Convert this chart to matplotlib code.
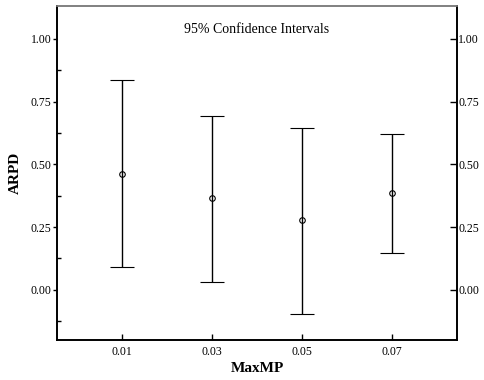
import matplotlib.pyplot as plt
import numpy as np

# values
groups = ['0.01', '0.03', '0.05', '0.07']
means = [0.463, 0.364, 0.279, 0.386]
upper = [0.835, 0.693, 0.645, 0.622]
lower = [0.092, 0.032, -0.096, 0.147]
yticks = [0.00, 0.25, 0.50, 0.75, 1.00]

plt.rcParams['font.family'] = ['Liberation Serif', 'DejaVu Serif']

fig = plt.figure(figsize=(4.85, 3.8), dpi=100)
ax = fig.add_axes([0.1175, 0.105, 0.8245, 0.879])

x = np.arange(len(groups))
means = np.array(means)
err = [means - np.array(lower), np.array(upper) - means]
ax.errorbar(x, means, yerr=err, fmt='o', color='black', mfc='none',
            ms=4, mew=0.8, elinewidth=1, capsize=8.5, capthick=1)

ax.set_xlim(-0.72, len(groups) - 1 + 0.72)
ax.set_ylim(-0.2, 1.13)
ax.set_xticks(x)
ax.set_xticklabels(groups)
ax.set_yticks(yticks)
ax.set_yticklabels([f'{v:.2f}' for v in yticks])
ax.set_yticks(np.arange(-0.125, 1.0, 0.25), minor=True)

ax.tick_params(axis='both', labelsize=8.5, width=1)
ax.tick_params(axis='y', which='major', direction='out', length=3, pad=1)
ax.tick_params(axis='y', which='minor', direction='in', length=3, width=1)
ax.tick_params(axis='x', direction='in', length=4, pad=4)

# mirrored y axis on the right
ax2 = ax.twinx()
ax2.set_ylim(ax.get_ylim())
ax2.set_yticks(yticks)
ax2.set_yticklabels([f'{v:.2f}' for v in yticks])
ax2.tick_params(axis='y', direction='in', length=5, width=1, labelsize=8.5, pad=1)

for a in (ax, ax2):
    for s in ('left', 'right', 'bottom'):
        a.spines[s].set_linewidth(1.2)
    a.spines['top'].set_color('#808080')
    a.spines['top'].set_linewidth(1.2)

ax.set_xlabel('MaxMP', fontsize=11, fontweight='bold', labelpad=3)
ax.set_ylabel('ARPD', fontsize=11, fontweight='bold', labelpad=6)
ax.text(0.5, 0.93, '95% Confidence Intervals', transform=ax.transAxes,
        ha='center', va='center', fontsize=10)

fig.savefig('out.png', dpi=100)
